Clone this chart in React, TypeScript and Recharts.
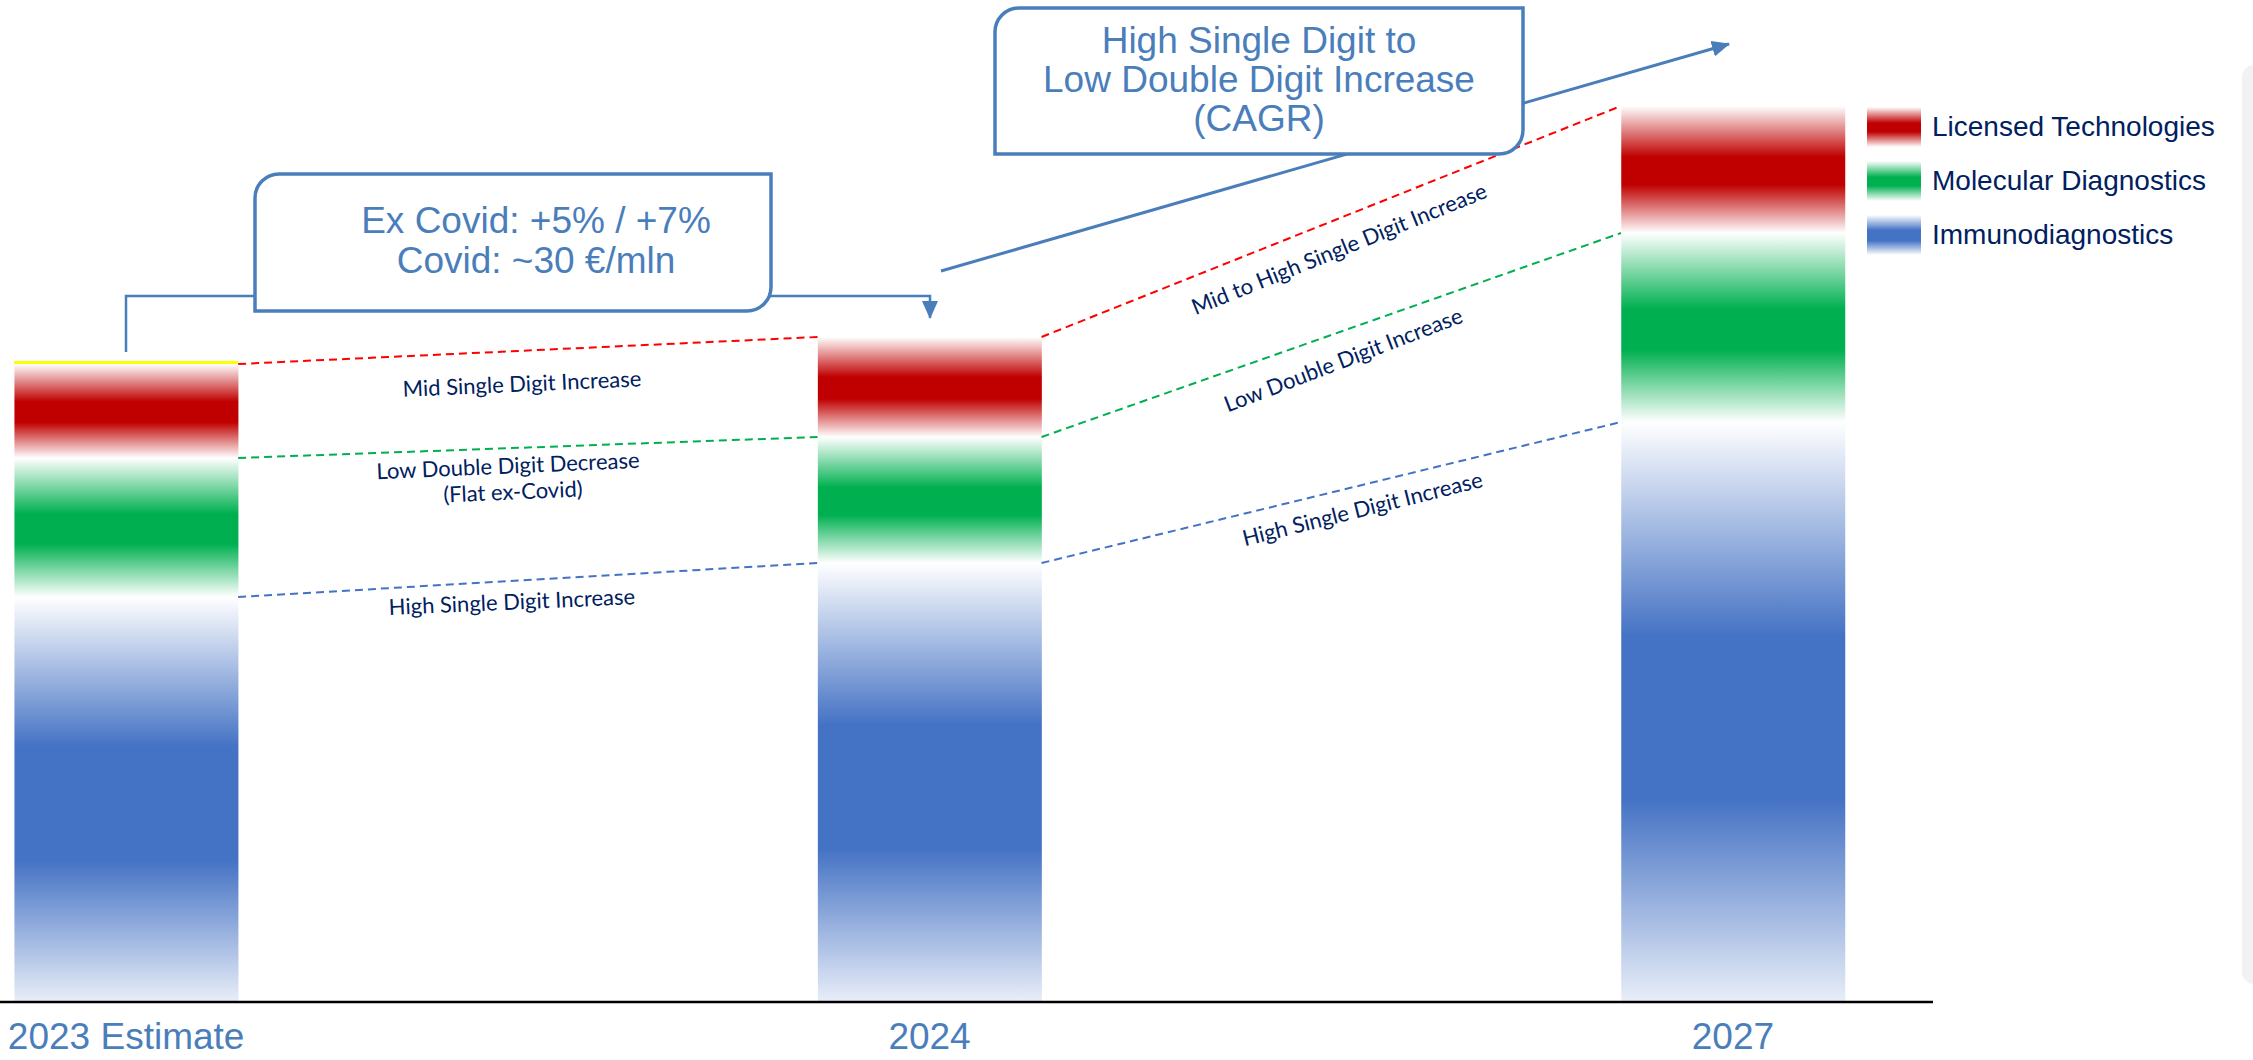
import React from 'react';
import { ComposedChart, Bar, XAxis, YAxis, ReferenceLine, Legend } from 'recharts';

// ---------- data ----------
const categories = ['2023 Estimate', '2024', '2027'];
const immunodiagnostics = [40.5, 43.9, 58.0];
const molecularDiagnostics = [13.9, 12.6, 18.9];
const licensedTechnologies = [9.4, 10.0, 12.7];
const seriesNames = ['Licensed Technologies', 'Molecular Diagnostics', 'Immunodiagnostics'];
const xTicks = [0, 1, 2];

// ---------- layout ----------
const W = 2253;
const H = 1060;
const PLOT_W = 1933;
const BAR_PX = 224;
const X_DOMAIN: [number, number] = [-0.157, 2.249];
const HALF = BAR_PX / 2 / (PLOT_W / (X_DOMAIN[1] - X_DOMAIN[0]));

const BOX_BLUE = '#4A7EBB';
const NAVY = '#002060';
const ARIAL = '"Liberation Sans", Arial, sans-serif';
const CALIBRI = 'Lato, "Open Sans", sans-serif';

const data = categories.map((c, i) => ({
  pos: i,
  name: c,
  immuno: immunodiagnostics[i],
  molecular: molecularDiagnostics[i],
  licensed: licensedTechnologies[i],
}));

const levelBlue = (i: number) => immunodiagnostics[i];
const levelGreen = (i: number) => immunodiagnostics[i] + molecularDiagnostics[i];
const levelRed = (i: number) => immunodiagnostics[i] + molecularDiagnostics[i] + licensedTechnologies[i];

const connectors = [
  { fn: levelRed, color: '#FF0000' },
  { fn: levelGreen, color: '#00B050' },
  { fn: levelBlue, color: '#4472C4' },
];

const gradByName: Record<string, string> = {
  [seriesNames[0]]: 'linear-gradient(to bottom, #ffffff 0%, #C00000 40%, #C00000 62%, #ffffff 100%)',
  [seriesNames[1]]: 'linear-gradient(to bottom, #ffffff 0%, #00B050 40%, #00B050 62%, #ffffff 100%)',
  [seriesNames[2]]: 'linear-gradient(to bottom, #ffffff 0%, #4472C4 38%, #4472C4 64%, #ffffff 100%)',
};

const Tick = (props: any) => {
  const { x, y, payload } = props;
  return (
    <text x={x} y={y + 47} textAnchor="middle" fill={BOX_BLUE} fontSize={37} fontFamily={ARIAL}>
      {categories[payload.value]}
    </text>
  );
};

const LegendContent = (props: any) => {
  const payload = props.payload || [];
  const items = seriesNames
    .map((n) => payload.find((p: any) => p.value === n))
    .filter(Boolean);
  return (
    <div style={{ display: 'flex', flexDirection: 'column' }}>
      {items.map((it: any) => (
        <div key={it.value} style={{ display: 'flex', alignItems: 'center', height: 54 }}>
          <div style={{ width: 54, height: 40, background: gradByName[it.value] }} />
          <span style={{ marginLeft: 11, fontSize: 28, color: NAVY, fontFamily: ARIAL, whiteSpace: 'nowrap' }}>
            {it.value}
          </span>
        </div>
      ))}
    </div>
  );
};

const RotLabel = ({ x, y, a, children, size = 22 }: any) => (
  <text
    transform={`translate(${x},${y}) rotate(${a})`}
    textAnchor="middle"
    dominantBaseline="middle"
    fill={NAVY}
    fontSize={size}
    fontFamily={CALIBRI}
  >
    {children}
  </text>
);

export default function App() {
  return (
    <div style={{ position: 'absolute', left: 0, top: 0, width: W, height: H, overflow: 'hidden', background: '#fff' }}>
      <ComposedChart
        width={W}
        height={H}
        data={data}
        margin={{ top: 2, right: W - PLOT_W, bottom: 0, left: 0 }}
      >
        <defs>
          <linearGradient id="gRed" x1="0" y1="0" x2="0" y2="1">
            <stop offset="0%" stopColor="#FFFFFF" />
            <stop offset="40%" stopColor="#C00000" />
            <stop offset="62%" stopColor="#C00000" />
            <stop offset="100%" stopColor="#FFFFFF" />
          </linearGradient>
          <linearGradient id="gGreen" x1="0" y1="0" x2="0" y2="1">
            <stop offset="0%" stopColor="#FFFFFF" />
            <stop offset="40%" stopColor="#00B050" />
            <stop offset="62%" stopColor="#00B050" />
            <stop offset="100%" stopColor="#FFFFFF" />
          </linearGradient>
          <linearGradient id="gBlue" x1="0" y1="0" x2="0" y2="1">
            <stop offset="0%" stopColor="#FFFFFF" />
            <stop offset="37%" stopColor="#4472C4" />
            <stop offset="65%" stopColor="#4472C4" />
            <stop offset="100%" stopColor="#E9EEF8" />
          </linearGradient>
        </defs>
        <XAxis
          type="number"
          dataKey="pos"
          domain={X_DOMAIN}
          ticks={xTicks}
          interval={0}
          allowDataOverflow
          tick={<Tick />}
          tickLine={false}
          tickSize={0}
          tickMargin={0}
          axisLine={{ stroke: '#000000', strokeWidth: 2.5 }}
          height={58}
        />
        <YAxis hide domain={[0, 100]} allowDataOverflow />
        <Legend
          layout="vertical"
          align="center"
          verticalAlign="middle"
          content={<LegendContent />}
          wrapperStyle={{ left: 1867, top: 100, width: 386, height: 170 }}
        />
        <Bar dataKey="immuno" name={seriesNames[2]} stackId="s" barSize={BAR_PX} fill="url(#gBlue)" isAnimationActive={false} />
        <Bar dataKey="molecular" name={seriesNames[1]} stackId="s" barSize={BAR_PX} fill="url(#gGreen)" isAnimationActive={false} />
        <Bar dataKey="licensed" name={seriesNames[0]} stackId="s" barSize={BAR_PX} fill="url(#gRed)" isAnimationActive={false} />
        {connectors.flatMap((c, k) =>
          [0, 1].map((i) => (
            <ReferenceLine
              key={`c${k}-${i}`}
              segment={[
                { x: i + HALF, y: c.fn(i) },
                { x: i + 1 - HALF, y: c.fn(i + 1) },
              ]}
              stroke={c.color}
              strokeWidth={2}
              strokeDasharray="8 5"
              ifOverflow="visible"
            />
          ))
        )}
        <ReferenceLine
          segment={[
            { x: -HALF, y: levelRed(0) + 0.15 },
            { x: HALF, y: levelRed(0) + 0.15 },
          ]}
          stroke="#FFFF00"
          strokeWidth={3}
          ifOverflow="visible"
        />
      </ComposedChart>

      {/* annotations */}
      <svg width={W} height={H} style={{ position: 'absolute', left: 0, top: 0, pointerEvents: 'none' }}>
        <defs>
          <marker id="arrowHead" markerUnits="userSpaceOnUse" markerWidth="18" markerHeight="16" refX="17" refY="8" orient="auto">
            <path d="M0,0 L18,8 L0,16 Z" fill={BOX_BLUE} />
          </marker>
        </defs>
        <polyline
          points="126,352 126,296 930,296 930,318"
          fill="none"
          stroke={BOX_BLUE}
          strokeWidth={2.5}
          markerEnd="url(#arrowHead)"
        />
        <line x1={941} y1={271} x2={1729} y2={44} stroke={BOX_BLUE} strokeWidth={3} markerEnd="url(#arrowHead)" />

        <path
          d="M255,198 A24,24 0 0 1 279,174 L771,174 L771,287 A24,24 0 0 1 747,311 L255,311 Z"
          fill="#FFFFFF"
          stroke={BOX_BLUE}
          strokeWidth={3.5}
        />
        <text x={536} y={233} textAnchor="middle" fill={BOX_BLUE} fontSize={37} fontFamily={ARIAL}>Ex Covid: +5% / +7%</text>
        <text x={536} y={273} textAnchor="middle" fill={BOX_BLUE} fontSize={37} fontFamily={ARIAL}>Covid: ~30 €/mln</text>

        <path
          d="M995,32 A24,24 0 0 1 1019,8 L1523,8 L1523,130 A24,24 0 0 1 1499,154 L995,154 Z"
          fill="#FFFFFF"
          stroke={BOX_BLUE}
          strokeWidth={3.5}
        />
        <text x={1259} y={53} textAnchor="middle" fill={BOX_BLUE} fontSize={37} fontFamily={ARIAL}>High Single Digit to</text>
        <text x={1259} y={92} textAnchor="middle" fill={BOX_BLUE} fontSize={37} fontFamily={ARIAL}>Low Double Digit Increase</text>
        <text x={1259} y={131} textAnchor="middle" fill={BOX_BLUE} fontSize={37} fontFamily={ARIAL}>(CAGR)</text>

        <RotLabel x={522} y={386} a={-2.5}>Mid Single Digit Increase</RotLabel>
        <RotLabel x={508} y={468} a={-2.5}>Low Double Digit Decrease</RotLabel>
        <RotLabel x={513} y={494} a={-2.5}>(Flat ex-Covid)</RotLabel>
        <RotLabel x={512} y={604} a={-2.5}>High Single Digit Increase</RotLabel>
        <RotLabel x={1340} y={251} a={-22}>Mid to High Single Digit Increase</RotLabel>
        <RotLabel x={1344} y={362} a={-21}>Low Double Digit Increase</RotLabel>
        <RotLabel x={1363} y={511} a={-14}>High Single Digit Increase</RotLabel>
      </svg>

      <div
        style={{
          position: 'absolute',
          left: 2242,
          top: 65,
          width: 30,
          height: 919,
          background: '#F2F2F2',
          borderRadius: 12,
        }}
      />
    </div>
  );
}
